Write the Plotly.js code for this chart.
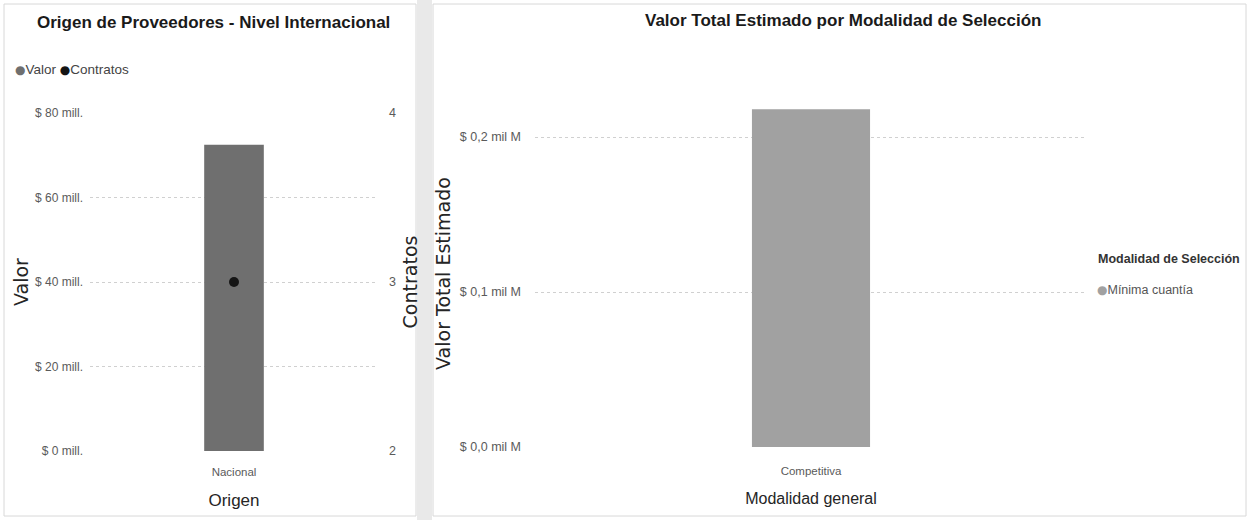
<!DOCTYPE html>
<html>
<head>
<meta charset="utf-8">
<script src="https://cdn.plot.ly/plotly-3.0.1.min.js"></script>
<style>
  html, body { margin: 0; padding: 0; background: #ffffff; overflow: hidden; }
  #chart { width: 1249px; height: 520px; overflow: hidden; }
</style>
</head>
<body>
<div id="chart"></div>
<script>
// ---- Data: left chart (Origen de Proveedores) ----
const origenCategories = ["Nacional"];
const valorSeries = [72500000];
const contratosSeries = [3];
const valorTickVals = [0, 20000000, 40000000, 60000000, 80000000];
const valorTickText = ["$ 0 mill.", "$ 20 mill.", "$ 40 mill.", "$ 60 mill.", "$ 80 mill."];
const contratosTickVals = [2, 3, 4];
const contratosTickText = ["2", "3", "4"];
const leftLegendLabels = ["Valor", "Contratos"];

// ---- Data: right chart (Modalidad de Selección) ----
const modalidadCategories = ["Competitiva"];
const modalidadSeleccion = "Mínima cuantía";
const valorTotalSeries = [218000000];
const valorTotalTickVals = [0, 100000000, 200000000];
const valorTotalTickText = ["$ 0,0 mil M", "$ 0,1 mil M", "$ 0,2 mil M"];

const W = 1249, H = 520;
const px = x => x / W;
const py = y => (H - y) / H;

const narrow = "Liberation Sans, Arial, sans-serif";
const wide = "DejaVu Sans, sans-serif";
const tickColor = "#5a5a5a";
const gridColor = "#d0d0d0";
const valorColor = "#6f6f6f";
const contratosColor = "#151515";
const modalidadColor = "#a1a1a1";

const bullet = color => "<span style='font-family:DejaVu Sans;font-size:12px;color:" + color + "'>●</span>";

const traces = [
  {
    type: "bar",
    name: leftLegendLabels[0],
    x: origenCategories,
    y: valorSeries,
    width: 0.207,
    marker: { color: valorColor },
    xaxis: "x", yaxis: "y",
    showlegend: false
  },
  {
    type: "scatter",
    mode: "markers",
    name: leftLegendLabels[1],
    x: origenCategories,
    y: contratosSeries,
    marker: { color: contratosColor, size: 10 },
    xaxis: "x", yaxis: "y2",
    showlegend: false
  },
  {
    type: "bar",
    name: modalidadSeleccion,
    x: modalidadCategories,
    y: valorTotalSeries,
    width: 0.214,
    marker: { color: modalidadColor },
    xaxis: "x3", yaxis: "y3",
    showlegend: false
  }
];

const layout = {
  width: W, height: H,
  margin: { l: 0, r: 0, t: 0, b: 0 },
  paper_bgcolor: "#ffffff",
  plot_bgcolor: "rgba(0,0,0,0)",
  showlegend: false,
  xaxis: {
    domain: [px(90), px(378)],
    anchor: "y",
    type: "category",
    range: [-0.5, 0.5],
    showgrid: false, zeroline: false, showline: false,
    tickfont: { family: narrow, size: 11.5, color: tickColor },
    ticks: "",
    ticklabelstandoff: 12,
    title: { text: "Origen", font: { family: narrow, size: 17, color: "#252525" }, standoff: 17 }
  },
  yaxis: {
    domain: [py(451), py(113)],
    anchor: "x",
    range: [0, 80000000],
    tickvals: valorTickVals,
    ticktext: valorTickText,
    tickfont: { family: narrow, size: 12, color: tickColor },
    showgrid: true, gridcolor: gridColor, griddash: "dot", gridwidth: 1,
    zeroline: false, showline: false, ticks: "",
    ticklabelstandoff: 6,
    title: { text: "Valor", font: { family: wide, size: 19, color: "#252525" }, standoff: 1 }
  },
  yaxis2: {
    overlaying: "y",
    side: "right",
    anchor: "x",
    range: [2, 4],
    tickvals: contratosTickVals,
    ticktext: contratosTickText,
    tickfont: { family: narrow, size: 12.5, color: tickColor },
    showgrid: false, zeroline: false, showline: false, ticks: "",
    ticklabelstandoff: 10,
    title: { text: "Contratos", font: { family: wide, size: 19, color: "#252525" }, standoff: 8 }
  },
  xaxis3: {
    domain: [px(535), px(1087)],
    anchor: "y3",
    type: "category",
    range: [-0.5, 0.5],
    showgrid: false, zeroline: false, showline: false,
    tickfont: { family: narrow, size: 11.5, color: tickColor },
    ticks: "",
    ticklabelstandoff: 15,
    title: { text: "Modalidad general", font: { family: narrow, size: 16, color: "#252525" }, standoff: 17 }
  },
  yaxis3: {
    domain: [py(447), py(100)],
    anchor: "x3",
    range: [0, 223900000],
    tickvals: valorTotalTickVals,
    ticktext: valorTotalTickText,
    tickfont: { family: narrow, size: 12.5, color: tickColor },
    showgrid: true, gridcolor: gridColor, griddash: "dot", gridwidth: 1,
    zeroline: false, showline: false, ticks: "",
    ticklabelstandoff: 13,
    title: { text: "Valor Total Estimado", font: { family: wide, size: 19, color: "#252525" }, standoff: 4 }
  },
  shapes: [
    { type: "rect", xref: "paper", yref: "paper", x0: px(417), x1: px(432), y0: 0, y1: 1, fillcolor: "#e9e9e9", line: { width: 0 }, layer: "below" },
    { type: "rect", xref: "paper", yref: "paper", x0: px(4), x1: px(416), y0: py(516), y1: py(4), fillcolor: "rgba(0,0,0,0)", line: { color: "#d8d8d8", width: 1 }, layer: "below" },
    { type: "rect", xref: "paper", yref: "paper", x0: px(433), x1: px(1246), y0: py(516), y1: py(4), fillcolor: "rgba(0,0,0,0)", line: { color: "#d8d8d8", width: 1 }, layer: "below" }
  ],
  annotations: [
    { text: "<b>Origen de Proveedores - Nivel Internacional</b>", xref: "paper", yref: "paper", x: px(213), y: py(23), xanchor: "center", yanchor: "middle", showarrow: false,
      font: { family: narrow, size: 17, color: "#1a1a1a" } },
    { text: "<b>Valor Total Estimado por Modalidad de Selección</b>", xref: "paper", yref: "paper", x: px(843), y: py(21), xanchor: "center", yanchor: "middle", showarrow: false,
      font: { family: narrow, size: 17, color: "#1a1a1a" } },
    { text: bullet(valorColor) + leftLegendLabels[0] + " " + bullet(contratosColor) + leftLegendLabels[1],
      xref: "paper", yref: "paper", x: px(13), y: py(70), xanchor: "left", yanchor: "middle", showarrow: false,
      font: { family: narrow, size: 13.5, color: "#444444" } },
    { text: "<b>Modalidad de Selección</b>", xref: "paper", yref: "paper", x: px(1096), y: py(259), xanchor: "left", yanchor: "middle", showarrow: false,
      font: { family: narrow, size: 12.5, color: "#333333" } },
    { text: bullet(modalidadColor) + modalidadSeleccion, xref: "paper", yref: "paper", x: px(1095), y: py(290), xanchor: "left", yanchor: "middle", showarrow: false,
      font: { family: narrow, size: 12.5, color: "#555555" } }
  ]
};

Plotly.newPlot("chart", traces, layout, { displayModeBar: false, staticPlot: true });
</script>
</body>
</html>
